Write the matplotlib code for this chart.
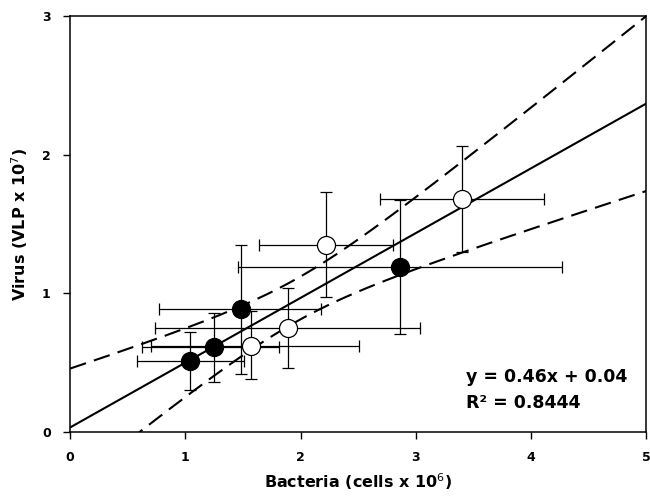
import numpy as np
import matplotlib
matplotlib.use("Agg")
import matplotlib.pyplot as plt

# filled circles
fx = [1.04, 1.25, 1.48, 2.86]
fy = [0.51, 0.61, 0.89, 1.19]
fx_lo = [0.58, 0.62, 0.77, 1.46]
fx_hi = [1.51, 1.81, 2.18, 4.27]
fy_lo = [0.30, 0.36, 0.42, 0.71]
fy_hi = [0.72, 0.86, 1.35, 1.67]

# open circles
ox = [1.57, 1.89, 2.22, 3.40]
oy = [0.62, 0.75, 1.35, 1.68]
ox_lo = [0.70, 0.74, 1.64, 2.69]
ox_hi = [2.51, 3.04, 2.80, 4.11]
oy_lo = [0.38, 0.46, 0.97, 1.30]
oy_hi = [0.87, 1.04, 1.73, 2.06]

eq_text = "y = 0.46x + 0.04"
r2_text = "R² = 0.8444"

plt.rcParams['font.family'] = ['DejaVu Sans']

fig = plt.figure(figsize=(6.5, 4.96), dpi=100)
ax = fig.add_axes([0.108, 0.129, 0.886, 0.839])

def draw(x, y, xlo, xhi, ylo, yhi, face):
    x = np.array(x); y = np.array(y)
    xerr = [x - np.array(xlo), np.array(xhi) - x]
    yerr = [y - np.array(ylo), np.array(yhi) - y]
    ax.errorbar(x, y, xerr=xerr, yerr=yerr, fmt='none', ecolor='black',
                elinewidth=0.9, capsize=4, capthick=0.9, zorder=2)
    ax.plot(x, y, 'o', ms=13, mfc=face, mec='black', mew=0.9, zorder=4)

draw(fx, fy, fx_lo, fx_hi, fy_lo, fy_hi, 'black')
draw(ox, oy, ox_lo, ox_hi, oy_lo, oy_hi, 'white')

# regression and 95% confidence band from all points
allx = np.array(fx + ox)
ally = np.array(fy + oy)
n = len(allx)
b, a = np.polyfit(allx, ally, 1)
res = ally - (a + b * allx)
s = np.sqrt(np.sum(res ** 2) / (n - 2))
sxx = np.sum((allx - allx.mean()) ** 2)
t = 2.447
xs = np.linspace(0, 5, 200)
yfit = a + b * xs
hw = t * s * np.sqrt(1.0 / n + (xs - allx.mean()) ** 2 / sxx)
ax.plot(xs, yfit, color='black', lw=1.5, zorder=3)
ax.plot(xs, yfit + hw, color='black', lw=1.5, dashes=[8, 4], zorder=3)
ax.plot(xs, yfit - hw, color='black', lw=1.5, dashes=[8, 4], zorder=3)

ax.text(3.44, 0.40, eq_text, fontsize=12.5, fontweight='bold', va='center', ha='left')
ax.text(3.44, 0.21, r2_text, fontsize=12.5, fontweight='bold', va='center', ha='left')

ax.set_xlim(0, 5)
ax.set_ylim(0, 3)
ax.set_xticks(range(0, 6))
ax.set_yticks(range(0, 4))
ax.tick_params(direction='out', length=5, width=1, labelsize=9, pad=9)
for lab in ax.get_xticklabels() + ax.get_yticklabels():
    lab.set_fontweight('bold')
for sp in ax.spines.values():
    sp.set_linewidth(1.1)

ax.set_xlabel("Bacteria (cells x 10$^6$)", fontsize=11.5, fontweight='bold', labelpad=5)
ax.set_ylabel("Virus (VLP x 10$^7$)", fontsize=11.5, fontweight='bold', labelpad=9)

fig.savefig("out.png", dpi=100)
